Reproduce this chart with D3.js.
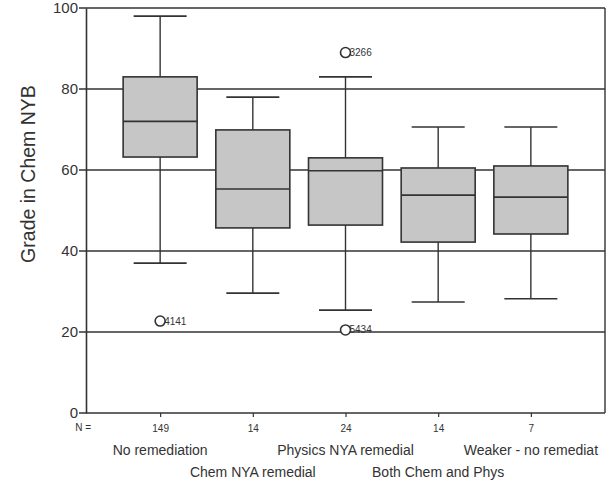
<!DOCTYPE html>
<meta charset="utf-8">
<head>
<style>
  body { margin: 0; background: #fff; }
  text { font-family: "Liberation Sans", Arial, sans-serif; fill: #333; }
</style>
</head>
<body>
<svg id="chart"></svg>
<script src="https://cdn.jsdelivr.net/npm/d3@7/dist/d3.min.js"></script>
<script>

// groups and counts
var groups = ["No remediation", "Chem NYA remedial", "Physics NYA remedial", "Both Chem and Phys", "Weaker - no remediat"];
var counts = [149, 14, 24, 14, 7];

// box statistics
var lowWhisker = [37, 29.6, 25.4, 27.4, 28.2];
var q1 = [63.2, 45.7, 46.4, 42.2, 44.2];
var median = [72, 55.3, 59.8, 53.8, 53.3];
var q3 = [83, 69.9, 63, 60.5, 61];
var highWhisker = [98, 78, 83, 70.6, 70.6];

// outliers: group index, value, case label
var outlierGroup = [0, 2, 2];
var outlierValue = [22.7, 89, 20.5];
var outlierLabel = ["4141", "3266", "5434"];

var yTicks = [0, 20, 40, 60, 80, 100];

var width = 610, height = 486;
var margin = {top: 8, right: 5, bottom: 73, left: 86};

var svg = d3.select("#chart")
  .attr("width", width)
  .attr("height", height);

var x = d3.scalePoint()
  .domain(groups)
  .range([margin.left, width - margin.right])
  .padding(0.8);

var y = d3.scaleLinear()
  .domain([0, 100])
  .range([height - margin.bottom, margin.top]);

var ink = "#333";
var boxW = 74, capW = 53;

// grid lines (full width) with ticks out to the left
svg.append("g")
  .selectAll("line")
  .data(yTicks)
  .enter().append("line")
  .attr("x1", margin.left - 7)
  .attr("x2", width - margin.right)
  .attr("y1", function(d) { return y(d); })
  .attr("y2", function(d) { return y(d); })
  .attr("stroke", ink)
  .attr("stroke-width", 1.4);

// y axis labels
var yAxis = d3.axisLeft(y).tickValues(yTicks).tickSize(0).tickPadding(8);
var ya = svg.append("g")
  .attr("transform", "translate(" + margin.left + ",0)")
  .call(yAxis);
ya.select(".domain").attr("stroke", ink).attr("stroke-width", 1.6);
ya.selectAll("text").style("font-size", "15px").attr("fill", ink)
  .style("font-family", "'Liberation Sans', Arial, sans-serif");

// right frame
svg.append("line")
  .attr("x1", width - margin.right).attr("x2", width - margin.right)
  .attr("y1", y(100)).attr("y2", y(0))
  .attr("stroke", ink).attr("stroke-width", 1.4);

// x ticks with N values
var xa = svg.append("g")
  .attr("transform", "translate(0," + y(0) + ")")
  .call(d3.axisBottom(x).tickSize(4).tickFormat(function(d, i) { return counts[i]; }).tickPadding(8));
xa.select(".domain").remove();
xa.selectAll("line").attr("stroke", ink).attr("stroke-width", 1.2);
xa.selectAll("text").style("font-size", "10px").attr("fill", ink)
  .style("font-family", "'Liberation Sans', Arial, sans-serif");

svg.append("text")
  .attr("x", 91).attr("y", 431)
  .attr("text-anchor", "end")
  .style("font-size", "10px")
  .text("N =");

// group labels on two alternating rows
svg.append("g")
  .selectAll("text")
  .data(groups)
  .enter().append("text")
  .attr("x", function(d) { return x(d); })
  .attr("y", function(d, i) { return i % 2 === 0 ? 455 : 477; })
  .attr("text-anchor", "middle")
  .style("font-size", "14px")
  .text(function(d) { return d; });

// y title
svg.append("text")
  .attr("transform", "translate(35,174) rotate(-90)")
  .attr("text-anchor", "middle")
  .style("font-size", "19.5px")
  .text("Grade  in Chem NYB");

// boxes
var box = svg.append("g")
  .selectAll("g")
  .data(groups)
  .enter().append("g");

box.append("line")
  .attr("x1", function(d) { return x(d); })
  .attr("x2", function(d) { return x(d); })
  .attr("y1", function(d, i) { return y(highWhisker[i]); })
  .attr("y2", function(d, i) { return y(lowWhisker[i]); })
  .attr("stroke", ink).attr("stroke-width", 1.4);

box.append("line")
  .attr("x1", function(d) { return x(d) - capW / 2; })
  .attr("x2", function(d) { return x(d) + capW / 2; })
  .attr("y1", function(d, i) { return y(highWhisker[i]); })
  .attr("y2", function(d, i) { return y(highWhisker[i]); })
  .attr("stroke", ink).attr("stroke-width", 1.6);

box.append("line")
  .attr("x1", function(d) { return x(d) - capW / 2; })
  .attr("x2", function(d) { return x(d) + capW / 2; })
  .attr("y1", function(d, i) { return y(lowWhisker[i]); })
  .attr("y2", function(d, i) { return y(lowWhisker[i]); })
  .attr("stroke", ink).attr("stroke-width", 1.6);

box.append("rect")
  .attr("x", function(d) { return x(d) - boxW / 2; })
  .attr("width", boxW)
  .attr("y", function(d, i) { return y(q3[i]); })
  .attr("height", function(d, i) { return y(q1[i]) - y(q3[i]); })
  .attr("fill", "#c6c6c6")
  .attr("stroke", ink).attr("stroke-width", 1.6);

box.append("line")
  .attr("x1", function(d) { return x(d) - boxW / 2; })
  .attr("x2", function(d) { return x(d) + boxW / 2; })
  .attr("y1", function(d, i) { return y(median[i]); })
  .attr("y2", function(d, i) { return y(median[i]); })
  .attr("stroke", ink).attr("stroke-width", 1.6);

// outliers
var out = svg.append("g")
  .selectAll("g")
  .data(outlierValue)
  .enter().append("g");

out.append("circle")
  .attr("cx", function(d, i) { return x(groups[outlierGroup[i]]); })
  .attr("cy", function(d) { return y(d); })
  .attr("r", 5)
  .attr("fill", "#fff")
  .attr("stroke", ink).attr("stroke-width", 1.6);

out.append("text")
  .attr("x", function(d, i) { return x(groups[outlierGroup[i]]) + 4; })
  .attr("y", function(d) { return y(d) + 3.5; })
  .style("font-size", "10px")
  .text(function(d, i) { return outlierLabel[i]; });

</script>
</body>
